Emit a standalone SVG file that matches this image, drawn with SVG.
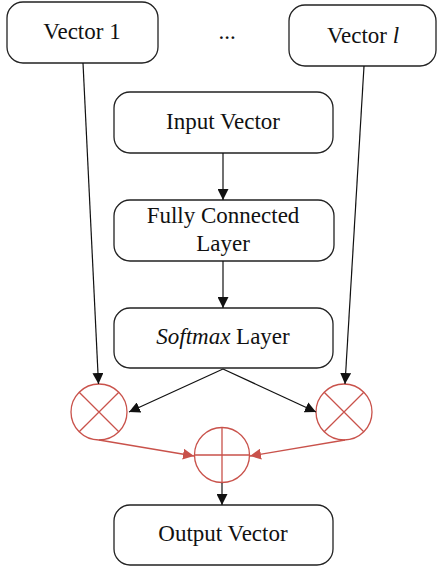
<svg xmlns="http://www.w3.org/2000/svg" width="437" height="569" viewBox="0 0 437 569">
<defs>
<style>
.box{fill:#fff;stroke:#222;stroke-width:1.3}
.t{font-family:"Liberation Serif","Times New Roman",serif;font-size:23px;fill:#111;text-anchor:middle}
.k{stroke:#111;stroke-width:1.2;fill:none}
.r{stroke:#c9524b;stroke-width:1.3;fill:none}
</style>
<marker id="ak" viewBox="0 0 10 10" refX="10" refY="5" markerWidth="11" markerHeight="11" markerUnits="userSpaceOnUse" orient="auto"><path d="M0,0 L10,5 L0,10 Z" fill="#111"/></marker>
<marker id="ar" viewBox="0 0 10 10" refX="10" refY="5" markerWidth="11" markerHeight="11" markerUnits="userSpaceOnUse" orient="auto"><path d="M0,0 L10,5 L0,10 Z" fill="#c9524b"/></marker>
</defs>
<rect width="437" height="569" fill="#fff"/>
<g id="vector1"><rect class="box" x="7" y="2" width="151" height="61" rx="16"/><text class="t" x="82" y="39">Vector 1</text></g>
<g id="dots"><text class="t" x="227" y="39">...</text></g>
<g id="vectorl"><rect class="box" x="289" y="5" width="147" height="61" rx="16"/><text class="t" x="363" y="43">Vector <tspan font-style="italic">l</tspan></text></g>
<g id="input"><rect class="box" x="114" y="92" width="219" height="61" rx="16"/><text class="t" x="223" y="129">Input Vector</text></g>
<g id="fc"><rect class="box" x="114" y="200" width="220" height="61" rx="16"/><text class="t" x="223" y="223">Fully Connected</text><text class="t" x="223" y="251">Layer</text></g>
<g id="softmax"><rect class="box" x="114" y="308" width="219" height="60" rx="16"/><text class="t" x="223" y="344"><tspan font-style="italic">Softmax</tspan> Layer</text></g>
<g id="output"><rect class="box" x="114" y="505" width="219" height="60" rx="16"/><text class="t" x="223" y="541">Output Vector</text></g>
<g id="mul1"><circle class="r" cx="99" cy="412" r="28"/><path class="r" d="M79.2,392.2 L118.8,431.8 M118.8,392.2 L79.2,431.8"/></g>
<g id="mul2"><circle class="r" cx="344" cy="412" r="28"/><path class="r" d="M324.2,392.2 L363.8,431.8 M363.8,392.2 L324.2,431.8"/></g>
<g id="add"><circle class="r" cx="222" cy="455" r="27.5"/><path class="r" d="M194.5,455 L249.5,455 M222,427.5 L222,482.5"/></g>
<g id="connectors">
<line class="k" x1="83" y1="63" x2="98.5" y2="384" marker-end="url(#ak)"/>
<line class="k" x1="364" y1="66" x2="345" y2="384" marker-end="url(#ak)"/>
<line class="k" x1="223" y1="153" x2="223" y2="200" marker-end="url(#ak)"/>
<line class="k" x1="223" y1="261" x2="223" y2="308" marker-end="url(#ak)"/>
<line class="k" x1="223" y1="369" x2="129" y2="412" marker-end="url(#ak)"/>
<line class="k" x1="223" y1="369" x2="316" y2="412" marker-end="url(#ak)"/>
<line class="r" x1="99" y1="440" x2="194" y2="456" marker-end="url(#ar)"/>
<line class="r" x1="345" y1="440" x2="250" y2="456" marker-end="url(#ar)"/>
<line class="k" x1="222" y1="483" x2="222" y2="505" marker-end="url(#ak)"/>
</g>
</svg>
